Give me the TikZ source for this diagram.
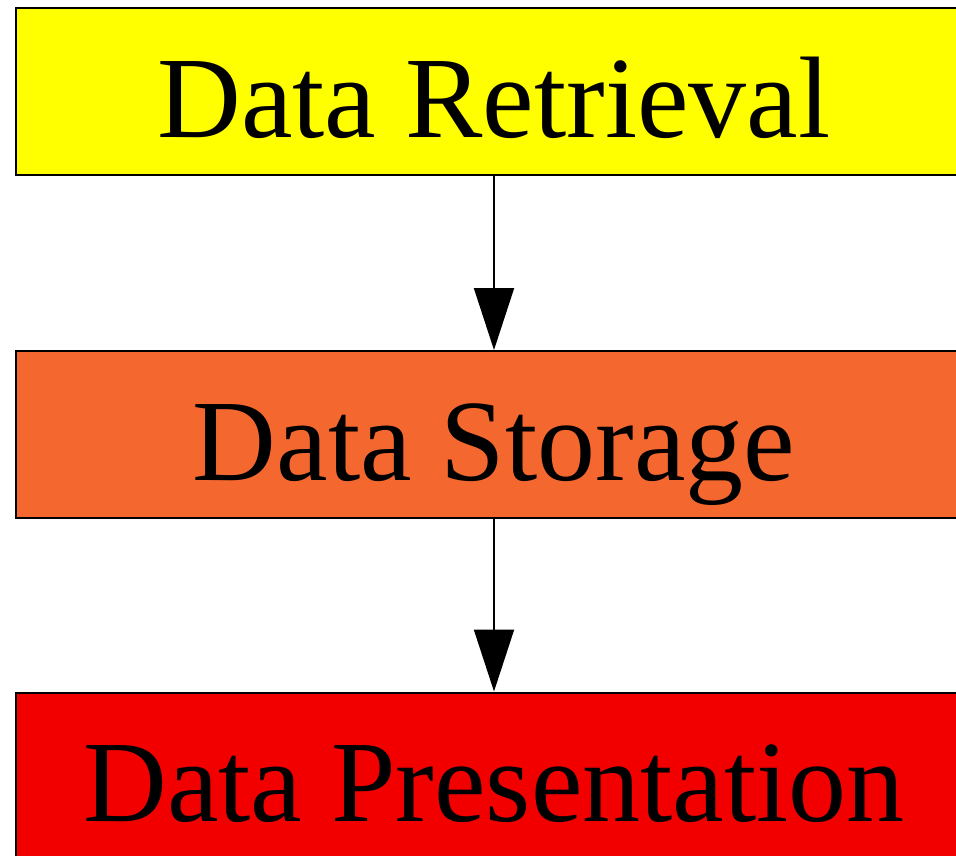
\documentclass[tikz,border=0pt]{standalone}
\usepackage{fontspec}
\setmainfont{Liberation Serif}
\usetikzlibrary{arrows.meta}

\definecolor{retrievalyellow}{RGB}{255,255,0}
\definecolor{storageorange}{RGB}{244,104,48}
\definecolor{presentationred}{RGB}{242,0,0}
\newcommand{\stagefont}{\fontsize{116}{120}\selectfont}

\begin{document}
\begin{tikzpicture}[x=1pt,y=1pt,
  stage/.style={draw, line width=2pt, minimum width=956pt, minimum height=167pt,
    inner sep=0pt, text height=91pt, text depth=0pt, font=\stagefont},
  flow/.style={line width=2pt, -{Triangle[length=62pt,width=40pt]}}]
\useasboundingbox (0,0) rectangle (956,-855);
\clip (0,0) rectangle (956,-855);

\node[stage, fill=retrievalyellow] (retrieval) at (494,-91.5) {Data Retrieval};
\node[stage, fill=storageorange] (storage) at (494,-434.5) {Data Storage};
\node[stage, fill=presentationred] (presentation) at (494,-776) {Data Presentation};

\draw[flow] (retrieval) -- (storage);
\draw[flow] (storage) -- (presentation);
\end{tikzpicture}
\end{document}
